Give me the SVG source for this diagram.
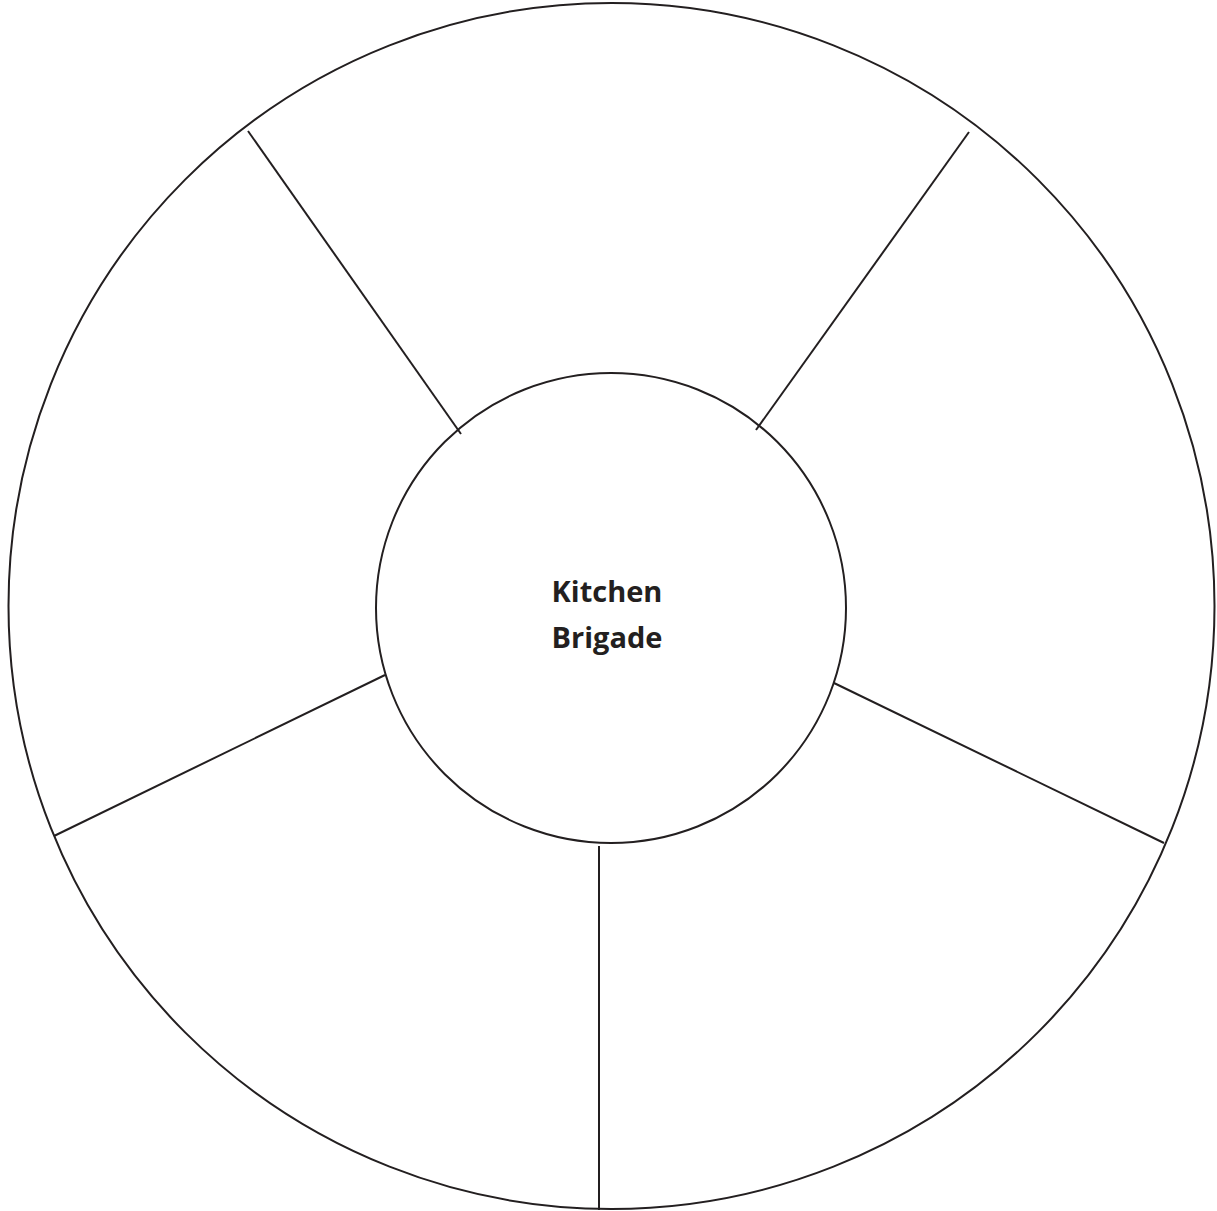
<svg xmlns="http://www.w3.org/2000/svg" width="1217" height="1211" viewBox="0 0 1217 1211">
<style>
.ln{stroke:#231f20;stroke-width:2;fill:none}
.t{font-family:"Open Sans","Liberation Sans",sans-serif;font-weight:bold;font-size:29px;fill:#231f20;text-anchor:middle}
</style>
<rect width="1217" height="1211" fill="#fff"/>
<g id="connectors">
<line class="ln" x1="461" y1="434" x2="248" y2="131"/>
<line class="ln" x1="756" y1="430" x2="969" y2="132"/>
<line class="ln" x1="834" y1="683" x2="1164" y2="843"/>
<line class="ln" x1="599" y1="846" x2="599" y2="1210"/>
<line class="ln" x1="385" y1="675" x2="54" y2="836"/>
</g>
<g id="outer"><circle class="ln" cx="611.5" cy="606" r="603"/></g>
<g id="center"><circle class="ln" cx="611" cy="608" r="235"/>
<text class="t" x="607" y="602">Kitchen</text>
<text class="t" x="607" y="648">Brigade</text></g>
</svg>
